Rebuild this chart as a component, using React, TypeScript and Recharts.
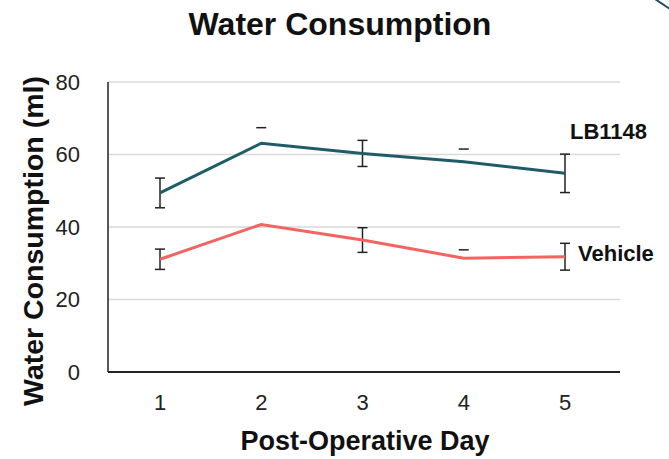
import React from "react";
import { LineChart, Line, XAxis, YAxis, CartesianGrid, ErrorBar } from "recharts";

const days = ["1", "2", "3", "4", "5"];
const lb1148 = [49.4, 63.1, 60.3, 58.0, 54.8];
const lb1148Err = [4.1, null, 3.6, null, 5.3];
const lb1148Cap = [null, 67.4, null, 61.5, null];
const vehicle = [31.1, 40.7, 36.4, 31.4, 31.8];
const vehicleErr = [2.8, null, 3.4, null, 3.7];
const vehicleCap = [null, null, null, 33.7, null];
const yTicks = [0, 20, 40, 60, 80];

const data = days.map((d, i) => ({
  day: d,
  lb: lb1148[i],
  lbErr: lb1148Err[i],
  lbCap: lb1148Cap[i],
  veh: vehicle[i],
  vehErr: vehicleErr[i],
  vehCap: vehicleCap[i],
}));

const FONT = "'Liberation Sans', Arial, sans-serif";

const Dash = (props: any) => {
  const { cx, cy, index } = props;
  if (cy == null || cx == null) return <g key={`d${index}`} />;
  return <line key={`d${index}`} x1={cx - 5} x2={cx + 5} y1={cy} y2={cy} stroke="#222" strokeWidth={1.5} />;
};

const seriesLabel = (name: string, dx: number, dy: number) => (props: any) => {
  const { x, y, index } = props;
  if (index !== days.length - 1) return null;
  return (
    <text x={x + dx} y={y + dy} dominantBaseline="central" fontFamily={FONT} fontWeight="bold" fontSize={22} fill="#111">
      {name}
    </text>
  );
};

export default function App() {
  return (
    <div style={{ position: "absolute", left: 0, top: 0, width: 669, height: 459, background: "#fff" }}>
      <LineChart width={669} height={459} data={data} margin={{ top: 82, right: 49, bottom: 57, left: 0 }}>
        <CartesianGrid vertical={false} stroke="#d9d9d9" strokeWidth={1.5} />
        <XAxis
          dataKey="day"
          height={30}
          padding={{ left: 52, right: 55 }}
          tickLine={false}
          tickMargin={16}
          stroke="#222"
          strokeWidth={2}
          tick={{ fontSize: 22, fill: "#222", fontFamily: FONT }}
        />
        <YAxis
          width={108}
          domain={[0, 80]}
          ticks={yTicks}
          tickLine={false}
          tickMargin={22}
          stroke="#222"
          strokeWidth={1.5}
          tick={{ fontSize: 22, fill: "#222", fontFamily: FONT }}
        />
        <Line
          dataKey="lb"
          stroke="#1F5C68"
          strokeWidth={3}
          dot={false}
          isAnimationActive={false}
          label={seriesLabel("LB1148", 5, -42)}
        >
          <ErrorBar dataKey="lbErr" width={5} stroke="#222" strokeWidth={1.5} direction="y" />
        </Line>
        <Line
          dataKey="veh"
          stroke="#F26462"
          strokeWidth={3}
          dot={false}
          isAnimationActive={false}
          label={seriesLabel("Vehicle", 13, -3)}
        >
          <ErrorBar dataKey="vehErr" width={5} stroke="#222" strokeWidth={1.5} direction="y" />
        </Line>
        <Line dataKey="lbCap" stroke="none" dot={Dash} activeDot={false} isAnimationActive={false} legendType="none" />
        <Line dataKey="vehCap" stroke="none" dot={Dash} activeDot={false} isAnimationActive={false} legendType="none" />
        <text x={340} y={24} textAnchor="middle" dominantBaseline="central" fontFamily={FONT} fontWeight="bold" fontSize={32} fill="#111">
          Water Consumption
        </text>
        <text x={365} y={441} textAnchor="middle" dominantBaseline="central" fontFamily={FONT} fontWeight="bold" fontSize={27} fill="#111">
          Post-Operative Day
        </text>
        <text
          x={33}
          y={241}
          textAnchor="middle"
          dominantBaseline="central"
          transform="rotate(-90 33 241)"
          fontFamily={FONT}
          fontWeight="bold"
          fontSize={28.5}
          fill="#111"
        >
          Water Consumption (ml)
        </text>
      </LineChart>
      <svg width={669} height={459} style={{ position: "absolute", left: 0, top: 0, pointerEvents: "none" }}>
        <line x1={655} y1={-1} x2={670} y2={9} stroke="#1F4F5A" strokeWidth={2} />
      </svg>
    </div>
  );
}
